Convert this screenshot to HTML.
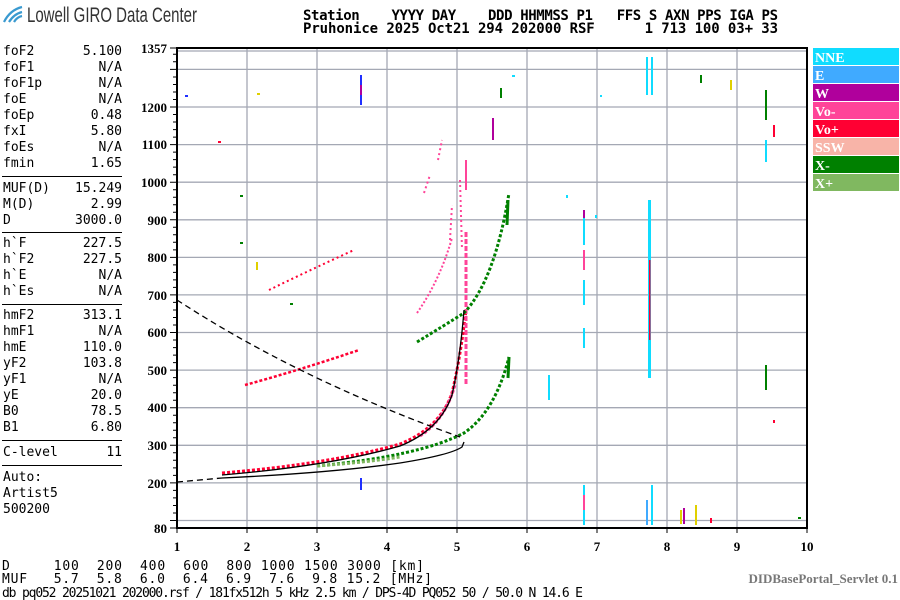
<!DOCTYPE html>
<html><head><meta charset="utf-8"><style>
html,body{margin:0;padding:0;background:#fff;width:900px;height:600px;overflow:hidden}
svg{display:block}
.m{font-family:"DejaVu Sans Mono","Liberation Mono",monospace;font-size:13px;fill:#000}
.b{font-family:"Liberation Serif",serif;font-weight:bold;font-size:13px;fill:#000}
.h{font-family:"DejaVu Sans Mono","Liberation Mono",monospace;font-weight:bold;font-size:14px;fill:#000}
.lg{font-family:"Liberation Serif",serif;font-weight:bold;font-size:14px;fill:#fff}
.logo{font-family:"Liberation Sans Narrow","Liberation Sans",sans-serif;font-size:21px;fill:#333}
</style></head><body>
<svg width="900" height="600" viewBox="0 0 900 600" xmlns="http://www.w3.org/2000/svg">
<g fill="none" stroke="#3a9ad0" stroke-width="2.2">
<path d="M4,22 Q10,10 22,7"/><path d="M9,22 Q14,14 22,12"/><path d="M14,22 Q17,17 22,16"/>
</g>
<text class="logo" x="27" y="22" textLength="170" lengthAdjust="spacingAndGlyphs">Lowell GIRO Data Center</text>
<text class="h" x="303" y="20" textLength="475" lengthAdjust="spacing" xml:space="preserve">Station    YYYY DAY    DDD HHMMSS P1   FFS S AXN PPS IGA PS</text>
<text class="h" x="303" y="33" textLength="475" lengthAdjust="spacing" xml:space="preserve">Pruhonice 2025 Oct21 294 202000 RSF      1 713 100 03+ 33</text>
<g class="m">
<text x="3" y="55">foF2</text><text x="122" y="55" text-anchor="end">5.100</text>
<text x="3" y="71">foF1</text><text x="122" y="71" text-anchor="end">N/A</text>
<text x="3" y="87">foF1p</text><text x="122" y="87" text-anchor="end">N/A</text>
<text x="3" y="103">foE</text><text x="122" y="103" text-anchor="end">N/A</text>
<text x="3" y="119">foEp</text><text x="122" y="119" text-anchor="end">0.48</text>
<text x="3" y="135">fxI</text><text x="122" y="135" text-anchor="end">5.80</text>
<text x="3" y="151">foEs</text><text x="122" y="151" text-anchor="end">N/A</text>
<text x="3" y="167">fmin</text><text x="122" y="167" text-anchor="end">1.65</text>
<text x="3" y="192">MUF(D)</text><text x="122" y="192" text-anchor="end">15.249</text>
<text x="3" y="208">M(D)</text><text x="122" y="208" text-anchor="end">2.99</text>
<text x="3" y="224">D</text><text x="122" y="224" text-anchor="end">3000.0</text>
<text x="3" y="247">h`F</text><text x="122" y="247" text-anchor="end">227.5</text>
<text x="3" y="263">h`F2</text><text x="122" y="263" text-anchor="end">227.5</text>
<text x="3" y="279">h`E</text><text x="122" y="279" text-anchor="end">N/A</text>
<text x="3" y="295">h`Es</text><text x="122" y="295" text-anchor="end">N/A</text>
<text x="3" y="319">hmF2</text><text x="122" y="319" text-anchor="end">313.1</text>
<text x="3" y="335">hmF1</text><text x="122" y="335" text-anchor="end">N/A</text>
<text x="3" y="351">hmE</text><text x="122" y="351" text-anchor="end">110.0</text>
<text x="3" y="367">yF2</text><text x="122" y="367" text-anchor="end">103.8</text>
<text x="3" y="383">yF1</text><text x="122" y="383" text-anchor="end">N/A</text>
<text x="3" y="399">yE</text><text x="122" y="399" text-anchor="end">20.0</text>
<text x="3" y="415">B0</text><text x="122" y="415" text-anchor="end">78.5</text>
<text x="3" y="431">B1</text><text x="122" y="431" text-anchor="end">6.80</text>
<text x="3" y="456">C-level</text><text x="122" y="456" text-anchor="end">11</text>
<text x="3" y="481">Auto:</text>
<text x="3" y="497">Artist5</text>
<text x="3" y="513">500200</text>
</g>
<g stroke="#000" stroke-width="1">
<line x1="2" y1="176.5" x2="122" y2="176.5"/><line x1="2" y1="232.5" x2="122" y2="232.5"/>
<line x1="2" y1="304.5" x2="122" y2="304.5"/><line x1="2" y1="440.5" x2="122" y2="440.5"/>
<line x1="2" y1="465.5" x2="122" y2="465.5"/>
</g>
<g stroke="#a4a8b4" stroke-width="1.3">
<line x1="247" y1="48" x2="247" y2="528"/><line x1="317" y1="48" x2="317" y2="528"/>
<line x1="387" y1="48" x2="387" y2="528"/><line x1="457" y1="48" x2="457" y2="528"/>
<line x1="527" y1="48" x2="527" y2="528"/><line x1="597" y1="48" x2="597" y2="528"/>
<line x1="667" y1="48" x2="667" y2="528"/><line x1="737" y1="48" x2="737" y2="528"/>
<line x1="177" y1="51" x2="807" y2="51"/>
<line x1="177" y1="520.5" x2="807" y2="520.5"/><line x1="177" y1="482.9" x2="807" y2="482.9"/>
<line x1="177" y1="445.3" x2="807" y2="445.3"/><line x1="177" y1="407.7" x2="807" y2="407.7"/>
<line x1="177" y1="370.1" x2="807" y2="370.1"/><line x1="177" y1="332.5" x2="807" y2="332.5"/>
<line x1="177" y1="294.9" x2="807" y2="294.9"/><line x1="177" y1="257.4" x2="807" y2="257.4"/>
<line x1="177" y1="219.8" x2="807" y2="219.8"/><line x1="177" y1="182.2" x2="807" y2="182.2"/>
<line x1="177" y1="144.6" x2="807" y2="144.6"/><line x1="177" y1="107" x2="807" y2="107"/>
<line x1="177" y1="69.4" x2="807" y2="69.4"/>
</g>
<g stroke="#000" stroke-width="2" fill="none">
<line x1="176" y1="48" x2="808" y2="48"/><line x1="177" y1="47" x2="177" y2="529"/>
<line x1="807" y1="47" x2="807" y2="529"/><line x1="176" y1="528" x2="808" y2="528"/>
</g>
<g stroke="#000" stroke-width="1">
<path d="M170,48h7 M170,69.4h7 M170,107h7 M170,144.6h7 M170,182.2h7 M170,219.8h7 M170,257.4h7 M170,294.9h7 M170,332.5h7 M170,370.1h7 M170,407.7h7 M170,445.3h7 M170,482.9h7 M170,520.5h7 M170,528h7"/>
<path d="M173,54.3h4M173,61.8h4M173,77h4M173,84.5h4M173,92h4M173,99.5h4M173,114.5h4M173,122h4M173,129.6h4M173,137.1h4M173,152.1h4M173,159.6h4M173,167.1h4M173,174.7h4M173,189.7h4M173,197.2h4M173,204.8h4M173,212.3h4M173,227.3h4M173,234.8h4M173,242.3h4M173,249.9h4M173,264.9h4M173,272.4h4M173,279.9h4M173,287.4h4M173,302.4h4M173,310h4M173,317.5h4M173,325h4M173,340h4M173,347.6h4M173,355.1h4M173,362.6h4M173,377.6h4M173,385.2h4M173,392.7h4M173,400.2h4M173,415.2h4M173,422.7h4M173,430.3h4M173,437.8h4M173,452.8h4M173,460.3h4M173,467.9h4M173,475.4h4M173,490.4h4M173,497.9h4M173,505.5h4M173,513h4"/>
<path d="M177,528v5 M247,528v5 M317,528v5 M387,528v5 M457,528v5 M527,528v5 M597,528v5 M667,528v5 M737,528v5 M807,528v5"/>
</g>
<g class="b" text-anchor="end">
<text x="167" y="53">1357</text><text x="167" y="112">1200</text><text x="167" y="149">1100</text>
<text x="167" y="187">1000</text><text x="167" y="225">900</text><text x="167" y="262">800</text>
<text x="167" y="300">700</text><text x="167" y="337">600</text><text x="167" y="375">500</text>
<text x="167" y="412">400</text><text x="167" y="450">300</text><text x="167" y="488">200</text>
<text x="167" y="533">80</text>
</g>
<g class="b" text-anchor="middle">
<text x="177" y="551">1</text><text x="247" y="551">2</text><text x="317" y="551">3</text><text x="387" y="551">4</text>
<text x="457" y="551">5</text><text x="527" y="551">6</text><text x="597" y="551">7</text><text x="667" y="551">8</text>
<text x="737" y="551">9</text><text x="807" y="551">10</text>
</g>
<g>
<rect x="813" y="48" width="86" height="17" fill="#10dcff"/><text class="lg" x="815" y="62">NNE</text>
<rect x="813" y="66" width="86" height="17" fill="#40aaff"/><text class="lg" x="815" y="80">E</text>
<rect x="813" y="84" width="86" height="17" fill="#b0009c"/><text class="lg" x="815" y="98">W</text>
<rect x="813" y="102" width="86" height="17" fill="#ff4499"/><text class="lg" x="815" y="116">Vo-</text>
<rect x="813" y="120" width="86" height="17" fill="#ff0033"/><text class="lg" x="815" y="134">Vo+</text>
<rect x="813" y="138" width="86" height="17" fill="#f8b4a8"/><text class="lg" x="815" y="152">SSW</text>
<rect x="813" y="156" width="86" height="17" fill="#008000"/><text class="lg" x="815" y="170">X-</text>
<rect x="813" y="174" width="86" height="17" fill="#80b860"/><text class="lg" x="815" y="188">X+</text>
</g>
<g fill="none">
<path d="M222,473 Q330,464 400,444 Q440,428 452,393 Q460,360 466,310" stroke="#ff0033" stroke-width="3" stroke-dasharray="3 2"/>
<path d="M420,436 Q445,420 455,385" stroke="#ff4499" stroke-width="3" stroke-dasharray="3 2"/>
<path d="M466,232 L466,385" stroke="#ff4499" stroke-width="3" stroke-dasharray="5 2"/>
<path d="M245,385 Q300,370 359,350" stroke="#ff0033" stroke-width="2.5" stroke-dasharray="3 2"/>
<path d="M269,290 Q310,270 354,250" stroke="#ff0033" stroke-width="2" stroke-dasharray="2 3"/>
<path d="M417,313 Q440,280 452,238" stroke="#ff4499" stroke-width="2" stroke-dasharray="2 2"/>
<path d="M450,240 L452,205 M424,193 L430,175 M438,160 L442,140 M460,180 L462,250" stroke="#ff4499" stroke-width="2" stroke-dasharray="2 3"/>
<path d="M317,466 Q420,456 464,433 Q495,412 509,357" stroke="#008000" stroke-width="3" stroke-dasharray="3 2"/>
<path d="M317,466 Q370,462 400,457" stroke="#80b860" stroke-width="3" stroke-dasharray="3 2"/>
<path d="M417,342 Q445,325 464,313 Q495,280 509,193" stroke="#008000" stroke-width="3" stroke-dasharray="3 2"/>
<path d="M507,225 L508,200" stroke="#008000" stroke-width="3"/>
<path d="M508,378 L509,357" stroke="#008000" stroke-width="3"/>
<path d="M222,475 Q330,466 400,446 Q440,430 452,395 Q460,360 464,310" stroke="#000" stroke-width="1.3"/>
<path d="M222,478 Q330,473 400,463 Q450,455 462,447 L464,442" stroke="#000" stroke-width="1.3"/>
<path d="M177,482 L222,478" stroke="#000" stroke-width="1.3" stroke-dasharray="6 4"/>
<path d="M177,300 Q300,380 460,437" stroke="#000" stroke-width="1.3" stroke-dasharray="6 4"/>
</g>
<g>
<rect x="648" y="200" width="3" height="178" fill="#10dcff"/>
<rect x="649" y="260" width="1.5" height="80" fill="#ff0033"/>
<rect x="646" y="57" width="2" height="38" fill="#10dcff"/><rect x="651" y="57" width="2" height="38" fill="#10dcff"/>
<rect x="651" y="485" width="2" height="40" fill="#10dcff"/><rect x="646" y="500" width="2" height="25" fill="#40aaff"/>
<rect x="583" y="210" width="2" height="35" fill="#10dcff"/><rect x="583" y="210" width="2" height="8" fill="#b0009c"/>
<rect x="583" y="250" width="2" height="20" fill="#ff4499"/><rect x="583" y="280" width="2" height="25" fill="#10dcff"/>
<rect x="583" y="328" width="2" height="20" fill="#10dcff"/>
<rect x="583" y="485" width="2" height="40" fill="#10dcff"/><rect x="583" y="495" width="2" height="15" fill="#ff4499"/>
<rect x="548" y="375" width="2" height="25" fill="#10dcff"/>
<rect x="360" y="75" width="2" height="30" fill="#2030ff"/><rect x="360" y="85" width="2" height="10" fill="#b0009c"/>
<rect x="360" y="478" width="2" height="12" fill="#2030ff"/>
<rect x="765" y="90" width="2" height="30" fill="#008000"/><rect x="765" y="140" width="2" height="22" fill="#10dcff"/>
<rect x="765" y="365" width="2" height="25" fill="#008000"/><rect x="773" y="125" width="2" height="12" fill="#ff0033"/>
<rect x="680" y="510" width="2" height="14" fill="#e0d000"/><rect x="683" y="508" width="2" height="16" fill="#b0009c"/>
<rect x="695" y="505" width="2" height="20" fill="#e0d000"/><rect x="710" y="518" width="2" height="5" fill="#ff0033"/>
<rect x="465" y="160" width="2" height="30" fill="#ff4499"/><rect x="492" y="118" width="2" height="22" fill="#b0009c"/>
<rect x="500" y="88" width="2" height="10" fill="#008000"/><rect x="512" y="75" width="3" height="2" fill="#10dcff"/>
<rect x="185" y="95" width="3" height="2" fill="#2030ff"/><rect x="218" y="141" width="3" height="2" fill="#ff0033"/>
<rect x="257" y="93" width="3" height="2" fill="#e0d000"/><rect x="240" y="195" width="3" height="2" fill="#008000"/>
<rect x="240" y="242" width="3" height="2" fill="#008000"/><rect x="256" y="262" width="2" height="8" fill="#e0d000"/>
<rect x="290" y="303" width="3" height="2" fill="#008000"/><rect x="730" y="80" width="2" height="10" fill="#e0d000"/>
<rect x="600" y="95" width="2" height="2" fill="#10dcff"/><rect x="700" y="75" width="2" height="8" fill="#008000"/>
<rect x="595" y="215" width="2" height="3" fill="#10dcff"/><rect x="566" y="195" width="2" height="3" fill="#10dcff"/>
<rect x="798" y="517" width="3" height="2" fill="#008000"/><rect x="773" y="420" width="2" height="3" fill="#ff0033"/>
</g>
<text class="m" x="2" y="570" textLength="422" lengthAdjust="spacing" xml:space="preserve">D     100  200  400  600  800 1000 1500 3000 [km]</text>
<text class="m" x="2" y="583" textLength="430" lengthAdjust="spacing" xml:space="preserve">MUF   5.7  5.8  6.0  6.4  6.9  7.6  9.8 15.2 [MHz]</text>
<text class="m" x="2" y="597" font-size="12" textLength="581" lengthAdjust="spacing" xml:space="preserve">db pq052 20251021 202000.rsf / 181fx512h 5 kHz 2.5 km / DPS-4D PQ052 50 / 50.0 N 14.6 E</text>
<text x="898" y="583" text-anchor="end" font-family="Liberation Serif,serif" font-weight="bold" font-size="13" fill="#777">DIDBasePortal_Servlet 0.1</text>
</svg>
</body></html>
